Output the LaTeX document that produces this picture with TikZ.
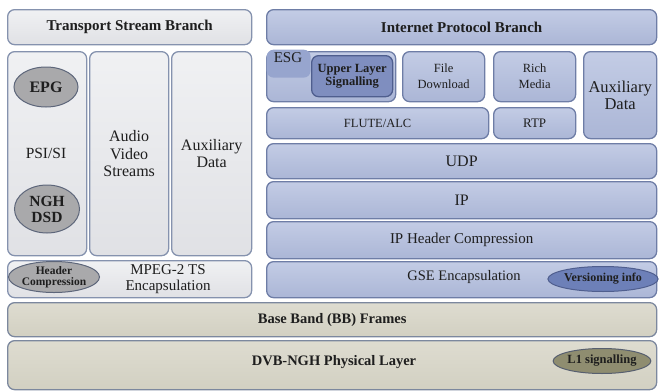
\documentclass[tikz,border=0pt]{standalone}
\usepackage{fontspec}
\setmainfont{Liberation Serif}
\usetikzlibrary{shapes.geometric}
\definecolor{gfillt}{HTML}{F0F1F3}
\definecolor{gfillb}{HTML}{E0E1E5}
\definecolor{gline}{HTML}{8592AE}
\definecolor{bfillt}{HTML}{C3CCE5}
\definecolor{bfillb}{HTML}{ABB6D6}
\definecolor{bline}{HTML}{6E7DA6}
\definecolor{dfill}{HTML}{7F8EBF}
\definecolor{dline}{HTML}{4F5E8E}
\definecolor{efill}{HTML}{97A5CE}
\definecolor{yfillt}{HTML}{DEDCD0}
\definecolor{yfillb}{HTML}{D2D0C2}
\definecolor{yline}{HTML}{7C889E}
\definecolor{ellg}{HTML}{A9A9AB}
\definecolor{ellv}{HTML}{6D80B8}
\definecolor{elll}{HTML}{8F8D70}
\definecolor{txt}{HTML}{1E1E1E}
\begin{document}
\begin{tikzpicture}[x=1pt,y=-1pt,
  every node/.style={text=txt, inner sep=1pt, align=center},
  base/.style={rounded corners=7pt, line width=1.3pt, anchor=north west},
  gbox/.style={base, top color=gfillt, bottom color=gfillb, draw=gline},
  bbox/.style={base, top color=bfillt, bottom color=bfillb, draw=bline},
  ybox/.style={base, top color=yfillt, bottom color=yfillb, draw=yline},
  ell/.style={ellipse, line width=1pt, inner sep=0pt}]
\useasboundingbox (0,0) rectangle (659,391);
% Transport stream branch
\node[gbox, minimum width=244pt, minimum height=35pt, font=\fontsize{15}{17}\selectfont\bfseries] (tsb) at (7,9) {Transport Stream Branch};
\node[gbox, minimum width=79pt, minimum height=204pt] (psi) at (7,51) {};
\node[gbox, minimum width=79pt, minimum height=204pt, font=\fontsize{16}{17.5}\selectfont] (av) at (89,51) {Audio\\Video\\Streams};
\node[gbox, minimum width=80pt, minimum height=204pt, font=\fontsize{16}{17.5}\selectfont] (aux1) at (171,51) {Auxiliary\\Data};
\node[font=\fontsize{15.5}{17}\selectfont] (psit) at (46,153) {PSI/SI};
\node[ell, fill=ellg, draw=gline!70!black, minimum width=64pt, minimum height=40pt, font=\fontsize{16}{17}\selectfont\bfseries] (epg) at (46,87) {EPG};
\node[ell, fill=ellg, draw=gline!70!black, minimum width=65pt, minimum height=48pt, font=\fontsize{15.5}{16}\selectfont\bfseries] (dsd) at (47,209) {NGH\\DSD};
\node[gbox, minimum width=244pt, minimum height=37pt] (mpeg) at (7,260) {};
\node[font=\fontsize{15}{16}\selectfont] (mpegt) at (168,279) {MPEG-2 TS\\Encapsulation};
\node[ell, fill=ellg, draw=gline!70!black, minimum width=84pt, minimum height=30pt, font=\fontsize{11.5}{11.5}\selectfont\bfseries] (hc) at (54,277) {Header\\Compression};
% Internet protocol branch
\node[bbox, minimum width=390pt, minimum height=35pt, font=\fontsize{15}{17}\selectfont\bfseries] (ipb) at (266,9) {Internet Protocol Branch};
\node[bbox, minimum width=129pt, minimum height=50pt] (sig) at (266,51) {};
\node[base, fill=efill, draw=none, minimum width=44pt, minimum height=28pt] (esgb) at (266,49) {};
\node[font=\fontsize{15}{16}\selectfont, anchor=north] (esg) at (288,51) {ESG};
\node[base, fill=dfill, draw=dline, minimum width=81pt, minimum height=41pt, font=\fontsize{12.5}{13}\selectfont\bfseries] (uls) at (311,55) {Upper Layer\\Signalling};
\node[bbox, minimum width=82pt, minimum height=50pt, font=\fontsize{12.5}{16}\selectfont] (fd) at (402,51) {File\\Download};
\node[bbox, minimum width=82pt, minimum height=50pt, font=\fontsize{12.5}{16}\selectfont] (rm) at (493,51) {Rich\\Media};
\node[bbox, minimum width=73pt, minimum height=87pt, font=\fontsize{16.5}{17}\selectfont] (aux2) at (583,51) {Auxiliary\\Data};
\node[bbox, minimum width=222pt, minimum height=31pt, font=\fontsize{12.5}{14}\selectfont] (flute) at (266,107) {FLUTE/ALC};
\node[bbox, minimum width=82pt, minimum height=31pt, font=\fontsize{13}{14}\selectfont] (rtp) at (493,107) {RTP};
\node[bbox, minimum width=390pt, minimum height=35pt, font=\fontsize{16}{17}\selectfont] (udp) at (266,143) {UDP};
\node[bbox, minimum width=390pt, minimum height=37pt, font=\fontsize{16}{17}\selectfont] (ip) at (266,181) {IP};
\node[bbox, minimum width=390pt, minimum height=37pt, font=\fontsize{15}{17}\selectfont] (iphc) at (266,221) {IP Header Compression};
\node[bbox, minimum width=390pt, minimum height=36pt] (gse) at (266,261) {};
\node[font=\fontsize{14.5}{16}\selectfont] (gset) at (464,277) {GSE Encapsulation};
\node[ell, fill=ellv, draw=dline, minimum width=98pt, minimum height=25pt, font=\fontsize{12}{13}\selectfont\bfseries] (ver) at (603,279) {Versioning info};
% bottom layers
\node[ybox, minimum width=649pt, minimum height=34pt, font=\fontsize{14.5}{16}\selectfont\bfseries] (bb) at (7,302) {Base Band (BB) Frames};
\node[ybox, minimum width=649pt, minimum height=49pt] (phy) at (7,340) {};
\node[font=\fontsize{14.5}{16}\selectfont\bfseries] (phyt) at (334,362) {DVB-NGH Physical Layer};
\node[ell, fill=elll, draw=yline!70!black, minimum width=93pt, minimum height=25pt, font=\fontsize{12.5}{13}\selectfont\bfseries] (l1) at (602,361) {L1 signalling};
\end{tikzpicture}
\end{document}
